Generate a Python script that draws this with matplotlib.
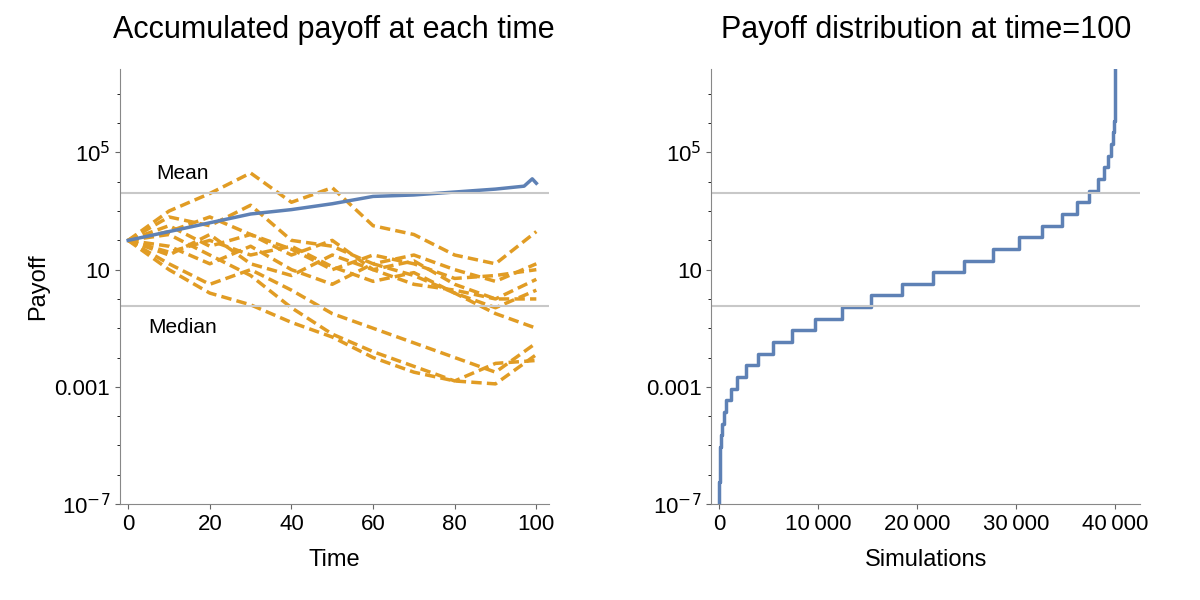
import matplotlib
matplotlib.use("Agg")
import matplotlib.pyplot as plt
import numpy as np

plt.rcParams["font.family"] = "Liberation Sans"

# ---- data ----
times = [0, 10, 20, 30, 40, 50, 60, 70, 80, 90, 100]
paths_log10 = [
    [2, 3.0, 3.6, 4.3, 3.3, 3.8, 2.5, 2.2, 1.5, 1.2, 2.3],
    [2, 2.8, 2.5, 3.2, 2.0, 1.8, 1.2, 1.5, 1.0, 0.6, 1.2],
    [2, 1.5, 2.2, 1.2, 0.8, 1.5, 1.0, 0.5, 0.3, 0.0, 0.67],
    [2, 1.8, 1.2, 1.8, 1.0, 0.5, 1.2, 0.8, 0.2, -0.3, 0.3],
    [2, 1.2, 0.5, 1.0, 0.3, -0.5, -1.0, -1.5, -2.0, -2.5, -1.5],
    [2, 2.2, 1.5, 0.8, -0.3, -1.2, -1.8, -2.3, -2.8, -2.2, -2.1],
    [2, 1.0, 0.2, -0.2, -0.8, -1.3, -2.0, -2.5, -2.8, -2.9, -1.9],
    [2, 2.5, 1.8, 2.2, 1.5, 2.0, 1.0, 1.3, 0.5, 0.0, 0.0],
    [2, 1.6, 2.0, 1.5, 1.8, 1.1, 0.6, 0.9, 0.2, -0.5, -1.0],
    [2, 2.3, 2.8, 2.2, 1.7, 1.0, 1.5, 1.2, 0.7, 0.8, 1.0],
]
mean_times = [0, 10, 20, 30, 40, 50, 60, 70, 80, 90, 97, 99, 100]
mean_log10 = [2, 2.3, 2.6, 2.9, 3.05, 3.25, 3.5, 3.55, 3.65, 3.75, 3.85, 4.1, 3.95]
mean_level = 4000
median_level = 0.56

# right panel: payoff levels (log10) and cumulative simulation counts at end of each level
level_log10 = [-20.18 + 0.398 * k for k in range(30, 76)]
cum_counts = [0, 1, 2, 4, 8, 16, 32, 60, 120, 232, 420, 704, 1136, 1772, 2664, 3868,
              5424, 7364, 9684, 12344, 15288, 18408, 21592, 24712, 27656, 30316,
              32636, 34576, 36132, 37336, 38228, 38864, 39296, 39580, 39768, 39880,
              39928, 39964, 39984, 39993, 39997, 39999, 39999.6, 39999.85, 39999.95, 40000]

orange = "#E19C24"
blue = "#5E81B5"
gray = "#C8C8C8"

fig, axes = plt.subplots(1, 2, figsize=(12, 6), dpi=100)
fig.subplots_adjust(left=0.1, right=0.95, bottom=0.16, top=0.885, wspace=0.38)

ylim = (10**-7, 10**7.85)
yticks = [1e-7, 1e-3, 10, 1e5]
ylabels = ["10$^{-7}$", "0.001", "10", "10$^{5}$"]

def style(ax):
    ax.set_yscale("log")
    ax.set_ylim(*ylim)
    ax.set_yticks(yticks)
    ax.set_yticklabels(ylabels, fontsize=17)
    ax.yaxis.set_minor_locator(matplotlib.ticker.LogLocator(base=10, numticks=30))
    ax.yaxis.set_minor_formatter(matplotlib.ticker.NullFormatter())
    for s in ["top", "right"]:
        ax.spines[s].set_visible(False)
    for s in ["left", "bottom"]:
        ax.spines[s].set_color("#888888")
    ax.tick_params(colors="#666666", labelcolor="black", labelsize=16)

ax = axes[0]
for p in paths_log10:
    ax.plot(times, 10 ** np.array(p), color=orange, lw=2.5, ls=(0, (3, 1.5)))
ax.plot(mean_times, 10 ** np.array(mean_log10), color=blue, lw=2.5)
ax.axhline(mean_level, color=gray, lw=1.5)
ax.axhline(median_level, color=gray, lw=1.5)
ax.text(7, mean_level * 2.3, "Mean", fontsize=15, ha="left", va="bottom")
ax.text(5, median_level / 2.5, "Median", fontsize=15, ha="left", va="top")
style(ax)
ax.set_xlim(-2, 103)
ax.set_xticks([0, 20, 40, 60, 80, 100])
ax.set_xlabel("Time", fontsize=17, labelpad=10)
ax.set_ylabel("Payoff", fontsize=17)
ax.set_title("Accumulated payoff at each time", fontsize=22, pad=22)

ax = axes[1]
ax.step(cum_counts, 10 ** np.array(level_log10), where="pre", color=blue, lw=2.5)
ax.axhline(mean_level, color=gray, lw=1.5)
ax.axhline(median_level, color=gray, lw=1.5)
style(ax)
ax.set_xlim(-800, 42500)
ax.set_xticks([0, 10000, 20000, 30000, 40000])
ax.set_xticklabels(["0", "10\u2009000", "20\u2009000", "30\u2009000", "40\u2009000"])
ax.set_xlabel("Simulations", fontsize=17, labelpad=10)
ax.set_title("Payoff distribution at time=100", fontsize=22, pad=22)

fig.savefig("out.png", dpi=100)
